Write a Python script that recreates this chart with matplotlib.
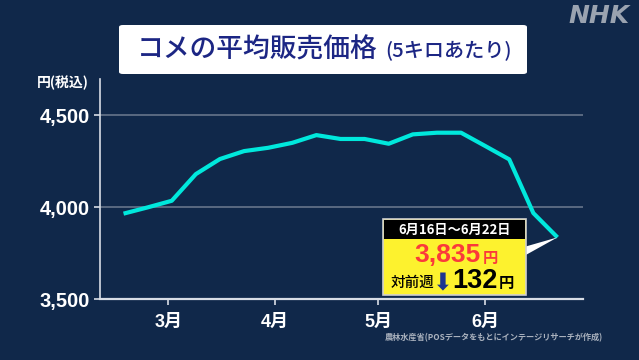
import matplotlib
matplotlib.use("Agg")
import matplotlib.pyplot as plt
import matplotlib.dates as mdates
from matplotlib.patches import FancyBboxPatch, Rectangle, Polygon
import numpy as np
import pandas as pd

plt.rcParams['font.family'] = ['Noto Sans CJK JP', 'DejaVu Sans']

# weekly average price (yen per 5kg), plotted at week end
weeks = pd.date_range("2025-02-16", periods=19, freq="7D")
prices = [3964, 3998, 4034, 4179, 4261, 4304, 4322, 4349, 4391, 4370,
          4370, 4344, 4395, 4404, 4404, 4332, 4259, 3967, 3835]
month_ticks = pd.to_datetime(["2025-03-01", "2025-04-01", "2025-05-01", "2025-06-01"])
month_labels = ["3月", "4月", "5月", "6月"]
y_ticks = [3500, 4000, 4500]
y_labels = ["3,500", "4,000", "4,500"]

BG = "#10284a"
W, H = 639, 360
def fx(px): return px / W
def fy(py): return 1 - py / H

fig = plt.figure(figsize=(6.39, 3.6), dpi=100, facecolor=BG)
ax = fig.add_axes([fx(100), fy(299), fx(583) - fx(100), fy(79) - fy(299)])
ax.set_facecolor(BG)

ax.plot(weeks, prices, color="#00e8dc", lw=3, solid_capstyle="butt", zorder=3)

ax.set_ylim(3500, 4696)
ax.set_xlim(pd.Timestamp("2025-02-09 04:00"), pd.Timestamp("2025-06-29 10:00"))
ax.set_yticks(y_ticks)
ax.set_yticklabels(y_labels)
ax.set_xticks(month_ticks)
ax.set_xticklabels(month_labels)
for y in y_ticks[1:]:
    ax.axhline(y, color="#5f6e85", lw=1.3, zorder=1)

for s in ["top", "right"]:
    ax.spines[s].set_visible(False)
ax.spines["left"].set_color("#d8dde5")
ax.spines["bottom"].set_color("#d8dde5")
ax.spines["left"].set_linewidth(1.2)
ax.spines["bottom"].set_linewidth(1.6)
ax.tick_params(axis="y", colors="#d8dde5", length=4.5, width=1.2, pad=3, labelsize=14.5,
               labelcolor="white")
ax.tick_params(axis="x", colors="#d8dde5", length=4, width=1.2, pad=7, labelsize=13,
               labelcolor="white")
for t in ax.get_yticklabels() + ax.get_xticklabels():
    t.set_fontweight("bold")
    t.set_family(["Liberation Sans", "Noto Sans CJK JP"])

# title box
fig.add_artist(FancyBboxPatch((fx(119), fy(74)), fx(527) - fx(119), fy(25) - fy(74),
                              boxstyle="round,pad=0,rounding_size=0.006",
                              transform=fig.transFigure, fc="white", ec="none"))
fig.text(fx(137), fy(50), "コメの平均販売価格", color="#1c2684", fontsize=19.3,
         va="center", ha="left", fontweight="medium")
fig.text(fx(385), fy(51), "(5キロあたり)", color="#1c2684", fontsize=14.5,
         va="center", ha="left", fontweight="medium")

# logo
fig.text(fx(599), fy(16), "NHK", color="#9aa3b0", fontsize=18, fontweight="heavy",
         style="italic", ha="center", va="center", family=["DejaVu Sans"])

fig.text(fx(37), fy(83), "円(税込)", color="white", fontsize=10, fontweight="bold",
         ha="left", va="center")
fig.text(fx(603), fy(338), "農林水産省(POSデータをもとにインテージリサーチが作成)",
         color="#aab2be", fontsize=5.9, fontweight="bold", ha="right", va="center")

# callout
tip = fig.transFigure.inverted().transform(
    ax.transData.transform((mdates.date2num(weeks[-1]), prices[-1])))
fig.add_artist(Polygon([(fx(524), fy(247)), (tip[0], tip[1]), (fx(524), fy(256))],
                       closed=True, transform=fig.transFigure, fc="white", ec="none", zorder=5))
fig.add_artist(Rectangle((fx(383), fy(295)), fx(526) - fx(383), fy(219) - fy(295),
                         transform=fig.transFigure, fc="#fdf22e", ec="#d0d0d0", lw=1.2, zorder=6))
fig.add_artist(Rectangle((fx(384), fy(239)), fx(525) - fx(384), fy(220) - fy(239),
                         transform=fig.transFigure, fc="black", ec="none", zorder=7))
fig.text(fx(455), fy(229.5), "6月16日～6月22日", color="white", fontsize=9.5,
         fontweight="bold", ha="center", va="center", zorder=8)
fig.text(fx(481), fy(255.5), "3,835", color="#fb3a3a", fontsize=19, fontweight="bold",
         ha="right", va="center", family=["Liberation Sans"], zorder=8)
fig.text(fx(483), fy(258), "円", color="#fb3a3a", fontsize=11, fontweight="bold",
         ha="left", va="center", zorder=8)
fig.text(fx(391), fy(283), "対前週", color="black", fontsize=10.5, fontweight="medium",
         ha="left", va="center", zorder=8)
fig.text(fx(443), fy(283), "⬇", color="#1c3590", fontsize=17, ha="center", va="center",
         family=["DejaVu Sans"], zorder=8)
fig.text(fx(452), fy(281), "132", color="black", fontsize=19.5, fontweight="bold",
         ha="left", va="center", family=["Liberation Sans"], zorder=8)
fig.text(fx(499), fy(283), "円", color="black", fontsize=11, fontweight="bold",
         ha="left", va="center", zorder=8)

fig.savefig("out.png", dpi=100, facecolor=BG)
